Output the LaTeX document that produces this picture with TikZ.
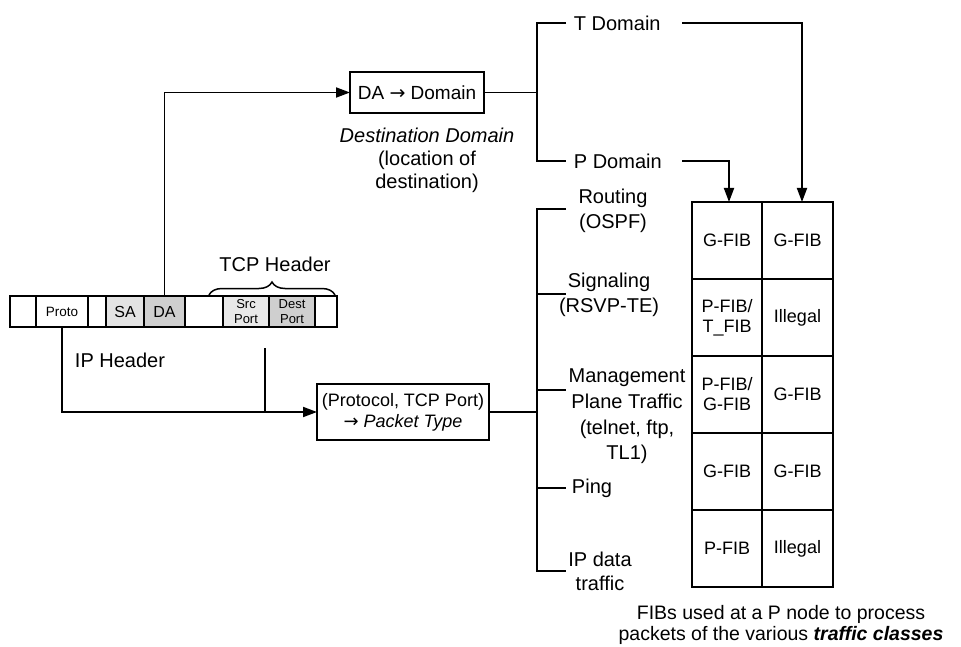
\documentclass[tikz,border=0pt]{standalone}
\usepackage{fontspec}
\setmainfont{Liberation Sans}
\newfontfamily\arrowfont{DejaVu Sans}
\usetikzlibrary{arrows.meta,decorations.pathreplacing}
\begin{document}
\begin{tikzpicture}[x=1pt,y=-1pt,
  line width=1.8pt,
  arr/.style={-{Triangle[length=14pt,width=10pt]}},
  lbl/.style={font=\fontsize{20}{25}\selectfont, align=center, inner sep=0pt},
  cell/.style={draw, line width=1.6pt, anchor=north west, minimum height=31pt, inner sep=0pt, outer sep=0pt},
  fib/.style={draw, line width=2.6pt, anchor=north west, minimum width=70pt, minimum height=77pt, inner sep=0pt, outer sep=0pt, font=\fontsize{18}{20}\selectfont, align=center},
  box/.style={draw, line width=1.8pt, inner sep=0pt, outer sep=0pt}
]
\useasboundingbox (0,0) rectangle (961,647);

% packet header row
\node[cell, minimum width=26pt] (c1) at (10,296) {};
\node[cell, minimum width=52pt, font=\fontsize{13.5}{14}\selectfont] (proto) at (36,296) {Proto};
\node[cell, minimum width=18pt] (c3) at (88,296) {};
\node[cell, minimum width=38pt, fill=gray!22, font=\fontsize{16}{16}\selectfont] (sa) at (106,296) {SA};
\node[cell, minimum width=41pt, fill=gray!38, font=\fontsize{16}{16}\selectfont] (da) at (144,296) {DA};
\node[cell, minimum width=38pt] (c6) at (185,296) {};
\node[cell, minimum width=46pt, fill=gray!18, align=center, font=\fontsize{13}{15.5}\selectfont] (src) at (223,296) {Src\\Port};
\node[cell, minimum width=46pt, fill=gray!38, align=center, font=\fontsize{13}{15.5}\selectfont] (dst) at (269,296) {Dest\\Port};
\node[cell, minimum width=22pt] (c9) at (315,296) {};

\draw[decorate, decoration={brace, amplitude=13pt}, line width=1.5pt] (209,295) -- (335,295);
\node[lbl] (tcph) at (275,264) {TCP Header};
\node[lbl] (iph) at (120,360) {IP Header};

% destination domain branch
\node[box, minimum width=134pt, minimum height=41pt, font=\fontsize{19}{20}\selectfont] (dab) at (417,92.5) {DA {\arrowfont →} Domain};
\draw[arr] (da.north) |- (dab.west);
\node[lbl, font=\fontsize{20}{23}\selectfont] (dest) at (427,160) {\textit{Destination Domain}\\(location of\\destination)};

\coordinate (j1) at (537,92.5);
\coordinate (tb) at (566,23);
\coordinate (pb) at (566,161);
\draw (dab.east) -- (j1);
\draw (tb) -- (tb -| j1) -- (pb -| j1) -- (pb);
\node[lbl, anchor=west] (tdom) at (573,23) {T Domain};
\node[lbl, anchor=west] (pdom) at (573,161) {P Domain};

% FIB table
\node[fib] (r1l) at (692,202) {G-FIB};
\node[fib, minimum width=71pt] (r1r) at (762,202) {G-FIB};
\node[fib] (r2l) at (692,279) {P-FIB/\\T\_FIB};
\node[fib, minimum width=71pt] (r2r) at (762,279) {Illegal};
\node[fib] (r3l) at (692,356) {P-FIB/\\G-FIB};
\node[fib, minimum width=71pt] (r3r) at (762,356) {G-FIB};
\node[fib] (r4l) at (692,433) {G-FIB};
\node[fib, minimum width=71pt] (r4r) at (762,433) {G-FIB};
\node[fib] (r5l) at (692,510) {P-FIB};
\node[fib, minimum width=71pt] (r5r) at (762,510) {Illegal};

\coordinate (ts) at (682,23);
\coordinate (ps) at (682,161);
\draw[arr] (ts) -| ([xshift=4.5pt]r1r.north);
\draw[arr] (ps) -| ([xshift=2pt]r1l.north);

% packet type branch
\node[box, minimum width=172pt, minimum height=56pt, align=center, font=\fontsize{18}{21}\selectfont] (ptb) at (403,412) {(Protocol, TCP Port)\\{\arrowfont →} \textit{Packet Type}};
\draw[arr] (proto.south) |- (ptb.west);
\coordinate (stub) at (265,348);
\draw (stub) -- (stub |- ptb.west);

\coordinate (j2) at (537,412);
\coordinate (b1) at (566,209);
\coordinate (b2) at (566,294);
\coordinate (b3) at (566,390);
\coordinate (b4) at (566,488);
\coordinate (b5) at (566,571);
\draw (ptb.east) -- (j2);
\draw (b1) -- (b1 -| j2) -- (b5 -| j2) -- (b5);
\draw (b2 -| j2) -- (b2);
\draw (b3 -| j2) -- (b3);
\draw (b4 -| j2) -- (b4);

\node[lbl] (rout) at (613,210.5) {Routing\\(OSPF)};
\node[lbl] (sig) at (609,294.5) {Signaling\\(RSVP-TE)};
\node[lbl, font=\fontsize{20}{25.7}\selectfont] (mgmt) at (627,416.5) {Management\\Plane Traffic\\(telnet, ftp,\\TL1)};
\node[lbl] (ping) at (592,488) {Ping};
\node[lbl, font=\fontsize{20}{24}\selectfont] (ipd) at (600,571) {IP data\\traffic};

\node[lbl, font=\fontsize{19.5}{20.5}\selectfont] (cap) at (781,625) {FIBs used at a P node to process\\packets of the various \textbf{\textit{traffic classes}}};
\end{tikzpicture}
\end{document}
